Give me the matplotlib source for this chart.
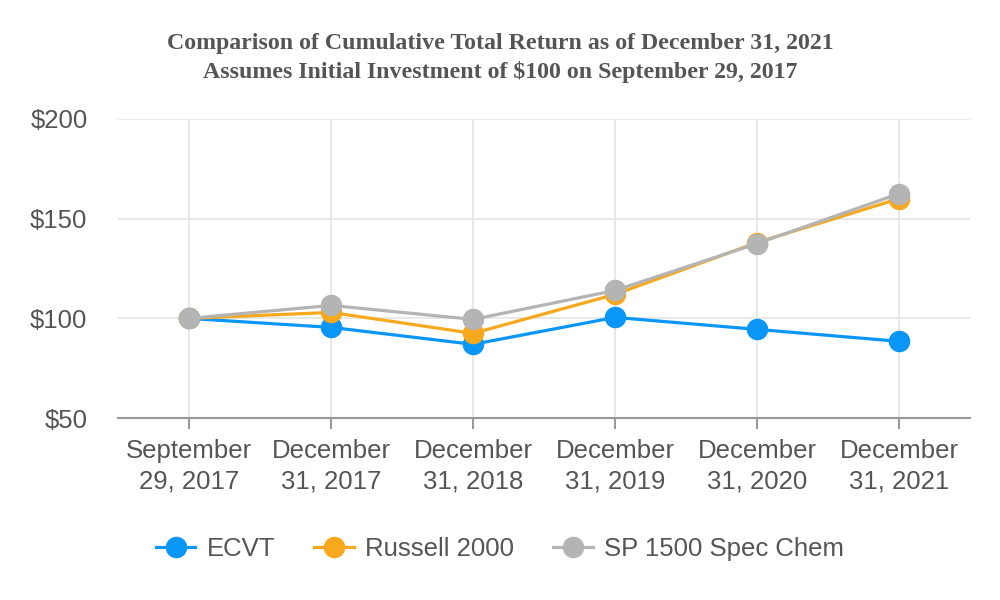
import matplotlib
matplotlib.use("Agg")
import matplotlib.pyplot as plt

categories = ["September\n29, 2017", "December\n31, 2017", "December\n31, 2018",
              "December\n31, 2019", "December\n31, 2020", "December\n31, 2021"]
ecvt = [100, 95.5, 87, 100.5, 94.5, 88.5]
russell = [100, 103, 92.5, 112, 138, 160]
sp_chem = [100, 106.5, 99.5, 114, 137.5, 162.5]
series_names = ["ECVT", "Russell 2000", "SP 1500 Spec Chem"]
yticks = [50, 100, 150, 200]
ytick_labels = ["$50", "$100", "$150", "$200"]

colors = ["#0A96F7", "#F7A91E", "#B4B4B4"]
text_color = "#555555"

plt.rcParams['font.family'] = ['Liberation Sans', 'DejaVu Sans']

fig = plt.figure(figsize=(10, 6), dpi=100)
ax = fig.add_axes([0.118, 0.303, 0.852, 0.499])

x = list(range(len(categories)))
for vals, name, c in zip([ecvt, russell, sp_chem], series_names, colors):
    ax.plot(x, vals, color=c, lw=2.3, marker='o', markersize=15.5,
            markeredgewidth=0, label=name, zorder=3)

ax.set_xlim(-0.5, len(categories) - 0.5)
ax.set_ylim(50, 200)
ax.set_yticks(yticks)
ax.set_yticklabels(ytick_labels)
ax.set_xticks(x)
ax.set_xticklabels(categories, linespacing=1.32)

ax.grid(True, color="#E6E6E6", lw=1.3, zorder=0)
for s in ["top", "right", "left"]:
    ax.spines[s].set_visible(False)
ax.spines["bottom"].set_color("#999999")
ax.spines["bottom"].set_linewidth(1.5)
ax.tick_params(axis='y', length=0, pad=22, labelsize=18.5, labelcolor=text_color)
ax.tick_params(axis='x', length=8, width=1.5, color="#999999", pad=7,
               labelsize=18.5, labelcolor=text_color)

fig.text(0.5, 0.928, "Comparison of Cumulative Total Return as of December 31, 2021",
         ha='center', va='center', fontsize=17.2, fontweight='bold',
         family=['Liberation Serif', 'DejaVu Serif'], color=text_color)
fig.text(0.5, 0.88, "Assumes Initial Investment of $100 on September 29, 2017",
         ha='center', va='center', fontsize=17.2, fontweight='bold',
         family=['Liberation Serif', 'DejaVu Serif'], color=text_color)

leg = fig.legend(loc='center', bbox_to_anchor=(0.5, 0.085), ncol=3, frameon=False,
                 fontsize=18.5, handlelength=1.55, handletextpad=0.45, columnspacing=1.5,
                 labelcolor=text_color)

fig.savefig("out.png", dpi=100)
